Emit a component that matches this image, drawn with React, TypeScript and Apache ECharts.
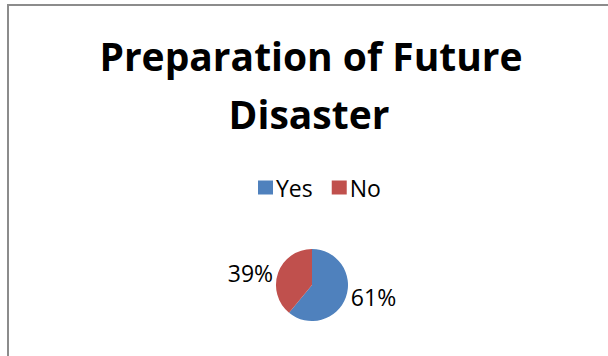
import React, { useEffect, useRef } from "react";
import * as echarts from "echarts";

const titleLines = ["Preparation of Future", "Disaster"];
const categories = ["Yes", "No"];
const values = [61, 39];
const colors = ["#4F81BD", "#C0504D"];

export default function App() {
  const ref = useRef<HTMLDivElement>(null);
  useEffect(() => {
    if (!ref.current) return;
    const chart = echarts.init(ref.current, undefined, { renderer: "svg" });
    chart.setOption({
      animation: false,
      backgroundColor: "#ffffff",
      color: colors,
      graphic: [
        {
          type: "rect",
          shape: { x: 8, y: 5, width: 700, height: 500 },
          style: { fill: "none", stroke: "#8c8c8c", lineWidth: 2 },
          silent: true,
        },
        {
          type: "text",
          x: 311,
          y: 55,
          style: {
            text: titleLines[0],
            font: 'bold 39px "Open Sans"',
            fill: "#000",
            align: "center",
            verticalAlign: "middle",
          },
        },
        {
          type: "text",
          x: 309,
          y: 113.5,
          style: {
            text: titleLines[1],
            font: 'bold 39px "Open Sans"',
            fill: "#000",
            align: "center",
            verticalAlign: "middle",
          },
        },
      ],
      legend: {
        data: categories,
        left: 253,
        top: 171,
        itemWidth: 15,
        itemHeight: 14,
        itemGap: 19,
        icon: "rect",
        textStyle: { fontFamily: "Open Sans", fontSize: 23, color: "#000", padding: [0, 0, 0, -2] },
        selectedMode: false,
      },
      series: [
        {
          type: "pie",
          center: [312, 285],
          radius: 36,
          startAngle: 90,
          clockwise: true,
          avoidLabelOverlap: false,
          data: categories.map((c, i) => ({ name: c, value: values[i] })),
          label: {
            show: true,
            position: "outside",
            formatter: (p: any) => `${p.value}%`,
            fontFamily: "Open Sans",
            fontSize: 23,
            color: "#000",
          },
          labelLine: { show: false, length: 0, length2: 0 },
          itemStyle: { borderWidth: 0 },
          emphasis: { disabled: true },
        },
      ],
    });
    return () => chart.dispose();
  }, []);
  return (
    <div
      ref={ref}
      style={{ position: "absolute", left: 0, top: 0, width: 608, height: 356 }}
    />
  );
}
